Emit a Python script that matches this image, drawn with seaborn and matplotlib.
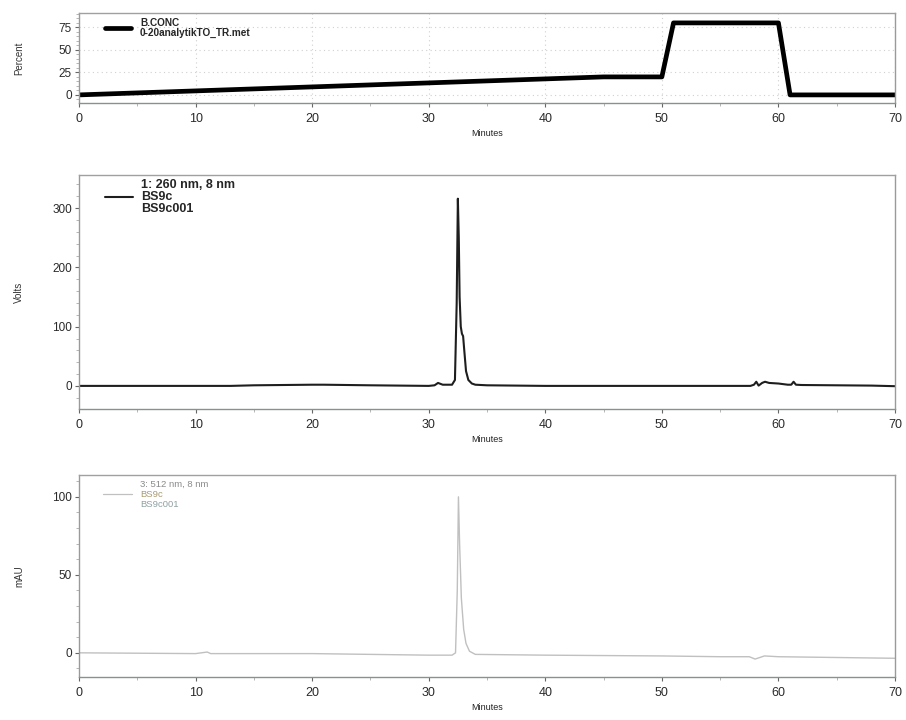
import numpy as np
import pandas as pd
import matplotlib
matplotlib.use("Agg")
import matplotlib.pyplot as plt
import matplotlib.transforms as mtrans
from matplotlib.lines import Line2D
from matplotlib.ticker import MultipleLocator, AutoMinorLocator
import seaborn as sns

# ---------------- data ----------------
grad_t = [0, 45, 50, 51, 60, 61, 70]
grad_v = [0, 20, 20, 80, 80, 0, 0]

mid_t = [0, 5, 10, 13, 15, 20, 21, 25, 30, 30.5, 30.8, 31.2, 32.0, 32.25, 32.4, 32.5,
         32.58, 32.65, 32.75, 32.85, 32.95, 33.05, 33.2, 33.4, 33.7, 34.0, 35, 40, 45,
         50, 55, 57.6, 57.9, 58.1, 58.3, 58.6, 58.85, 59.2, 60.0, 60.8, 61.1, 61.3, 61.5,
         62.0, 65, 68, 70]
mid_v = [0, 0, 0, 0, 1, 2, 2, 1, 0, 1, 5, 2, 2, 10, 140, 316,
         250, 150, 100, 88, 84, 60, 25, 10, 4, 2, 1, 0, 0,
         0, 0, 0, 2, 7, 0.5, 5, 7, 5, 4, 2, 2, 7, 2,
         1.5, 1, 0.5, -0.5]

bot_t = [0, 10, 11, 11.3, 20, 30, 32.0, 32.3, 32.45, 32.55, 32.65, 32.8, 33.0, 33.2,
         33.5, 34, 40, 50, 55, 57.5, 58.0, 58.4, 58.8, 60, 70]
bot_v = [0, -0.5, 0.5, -0.5, -0.5, -1.5, -1.5, 0, 40, 100, 70, 35, 15, 6,
         1, -1, -1.5, -2, -2.5, -2.5, -4, -3, -2, -2.5, -3.5]

x_ticks = [0, 10, 20, 30, 40, 50, 60, 70]

# ---------------- style ----------------
sns.set_theme(style="ticks")
plt.rcParams["font.family"] = ["Liberation Sans", "DejaVu Sans"]

fig = plt.figure(figsize=(9.06, 7.2), dpi=100)
W, H = 906, 720


def make_ax(left, top, right, bottom):
    return fig.add_axes([left / W, 1 - bottom / H, (right - left) / W, (bottom - top) / H])


ax1 = make_ax(79, 13, 895, 103)
ax2 = make_ax(79, 175, 895, 409)
ax3 = make_ax(79, 475, 895, 677)

df1 = pd.DataFrame({"Minutes": grad_t, "v": grad_v})
df2 = pd.DataFrame({"Minutes": mid_t, "v": mid_v})
df3 = pd.DataFrame({"Minutes": bot_t, "v": bot_v})

sns.lineplot(data=df1, x="Minutes", y="v", ax=ax1, color="black", linewidth=3.4,
             label="B.CONC\n0-20analytikTO_TR.met")
sns.lineplot(data=df2, x="Minutes", y="v", ax=ax2, color="#1e1e1e", linewidth=1.5,
             label="1: 260 nm, 8 nm\nBS9c\nBS9c001")
sns.lineplot(data=df3, x="Minutes", y="v", ax=ax3, color="#c0c0c0", linewidth=1.0)

ax1.set_ylim(-9, 91)
ax2.set_ylim(-39, 356)
ax3.set_ylim(-15.5, 114)

for ax, ylab in [(ax1, "Percent"), (ax2, "Volts"), (ax3, "mAU")]:
    ax.set_xlim(0, 70)
    ax.set_xticks(x_ticks)
    ax.xaxis.set_minor_locator(MultipleLocator(5))
    ax.yaxis.set_minor_locator(AutoMinorLocator(5))
    ax.tick_params(axis="both", which="major", labelsize=8.5, colors="#666666",
                   labelcolor="#2a2a2a", length=3, width=0.8, direction="out", pad=2)
    ax.tick_params(axis="both", which="minor", length=2, width=0.6, direction="out",
                   colors="#aaaaaa")
    ax.tick_params(axis="x", which="major", labelsize=9, pad=4)
    for s in ax.spines.values():
        s.set_visible(True)
        s.set_color("#9a9a9a")
        s.set_linewidth(1.0)
    ax.spines["bottom"].set_color("#8a8f90")
    ax.spines["top"].set_color("#a0a0a0")
    ax.set_xlabel("Minutes", fontsize=6.5, labelpad=3, color="#222222")
    ax.set_ylabel("")
    fig.text(19 / W, 0.5, ylab, rotation=90, fontsize=7, color="#333333",
             ha="center", va="center",
             transform=mtrans.blended_transform_factory(fig.transFigure, ax.transAxes))

ax1.set_yticks([0, 25, 50, 75])
ax1.grid(True, which="major", linestyle=(0, (1, 3)), color="#d0d0d0", linewidth=0.8)
ax2.set_yticks([0, 100, 200, 300])
ax3.set_yticks([0, 50, 100])

# legends
leg1 = ax1.legend(loc="upper left", bbox_to_anchor=(0.032, 0.95), frameon=False,
                  handlelength=2.6, handletextpad=0.9, borderpad=0,
                  borderaxespad=0, prop={"weight": "bold", "size": 7.2})
for t in leg1.get_texts():
    t.set_linespacing(1.05)

leg2 = ax2.legend(loc="upper left", bbox_to_anchor=(0.032, 0.985), frameon=False,
                  handlelength=2.2, handletextpad=0.7, borderpad=0, borderaxespad=0,
                  prop={"weight": "bold", "size": 9})
for t in leg2.get_texts():
    t.set_linespacing(1.05)

h_blank = Line2D([], [], linestyle="none")
h_line = Line2D([], [], color="#c0c0c0", linewidth=0.9)
leg3 = ax3.legend([h_blank, h_line, h_blank], ["3: 512 nm, 8 nm", "BS9c", "BS9c001"],
                  loc="upper left", bbox_to_anchor=(0.029, 0.975), frameon=False,
                  handlelength=3.1, handletextpad=0.9, borderpad=0, borderaxespad=0,
                  labelspacing=0.1, prop={"size": 6.8})
for t, c in zip(leg3.get_texts(), ["#8a8a8a", "#a89a72", "#8fa0a0"]):
    t.set_color(c)

fig.savefig("out.png", dpi=100)
